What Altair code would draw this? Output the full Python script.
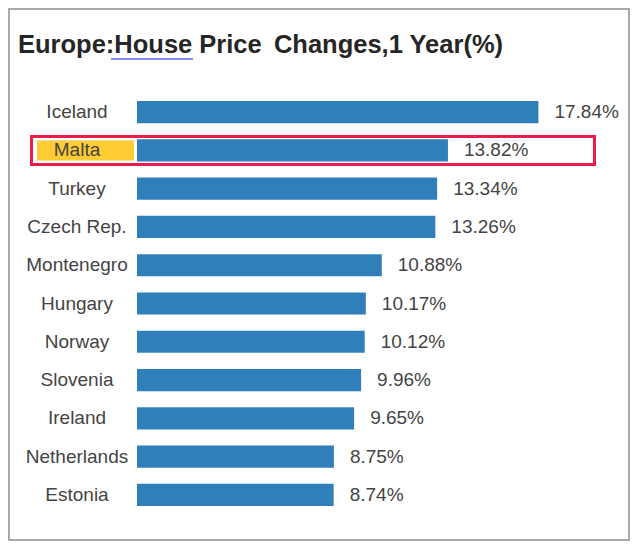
import altair as alt
import pandas as pd

countries = ["Iceland", "Malta", "Turkey", "Czech Rep.", "Montenegro", "Hungary",
             "Norway", "Slovenia", "Ireland", "Netherlands", "Estonia"]
values = [17.84, 13.82, 13.34, 13.26, 10.88, 10.17, 10.12, 9.96, 9.65, 8.75, 8.74]
labels = [f"{v:.2f}%" for v in values]
highlight = "Malta"
title_text = "Europe:House Price\u2009 Changes,1 Year(%)"

df = pd.DataFrame({"country": countries, "value": values, "label": labels})

W, H = 405, 421          # plot area
PL, PT = 129, 85         # padding left / top
TOTAL_W, TOTAL_H = 622, 533
PR = TOTAL_W - PL - W
PB = TOTAL_H - PT - H

yenc = alt.Y("country:N", sort=countries, axis=None,
             scale=alt.Scale(paddingInner=0.42, paddingOuter=0.21))
xenc = alt.X("value:Q", axis=None,
             scale=alt.Scale(domain=[0, 18], nice=False, zero=True))

one = alt.Data(values=[{"k": 1}])
base = alt.Chart(df)

# page (px, py) -> plot coords (px - 8 - PL, py - 8 - PT)
OX, OY = 8 + PL, 8 + PT

frame = alt.Chart(one).mark_rect(fill="white", stroke="#a8a8a8", strokeWidth=2).encode(
    x=alt.value(-PL + 1), x2=alt.value(W + PR - 1),
    y=alt.value(-PT + 1), y2=alt.value(H + PB - 1))

title = alt.Chart(one).mark_text(
    align="left", baseline="alphabetic", fontSize=25.5, fontWeight="bold",
    font="Liberation Sans", color="#262626").encode(
    x=alt.value(18 - OX), y=alt.value(53 - OY), text=alt.value(title_text))

underline = alt.Chart(one).mark_rule(color="#8c8cf5", strokeWidth=2).encode(
    x=alt.value(111 - OX), x2=alt.value(193 - OX), y=alt.value(59 - OY))

hl_box = base.transform_filter(alt.datum.country == highlight).mark_bar(
    height=28, fill="white", stroke="#ea1c4b", strokeWidth=3).encode(
    y=yenc, x=alt.value(31.5 - OX), x2=alt.value(594.5 - OX))

hl_label = base.transform_filter(alt.datum.country == highlight).mark_bar(
    height=20, color="#ffcc33").encode(
    y=yenc, x=alt.value(37 - OX), x2=alt.value(134 - OX))

bars = base.mark_bar(color="#2f80ba").encode(y=yenc, x=xenc)

cat_text = base.mark_text(align="center", baseline="middle", fontSize=19,
                          font="Liberation Sans", color="#444444").encode(
    y=yenc, x=alt.value(77 - OX), text="country:N")

val_text = base.mark_text(align="left", baseline="middle", dx=16, fontSize=19,
                          font="Liberation Sans", color="#444444").encode(
    y=yenc, x=xenc, text="label:N")

chart = alt.layer(frame, title, underline, hl_box, hl_label, bars, cat_text, val_text).properties(
    width=W, height=H,
    autosize=alt.AutoSizeParams(type="none"),
    padding={"left": PL, "top": PT, "right": PR, "bottom": PB},
).configure_view(stroke=None)

chart.save("out.html", embed_options={"renderer": "svg", "actions": False})
